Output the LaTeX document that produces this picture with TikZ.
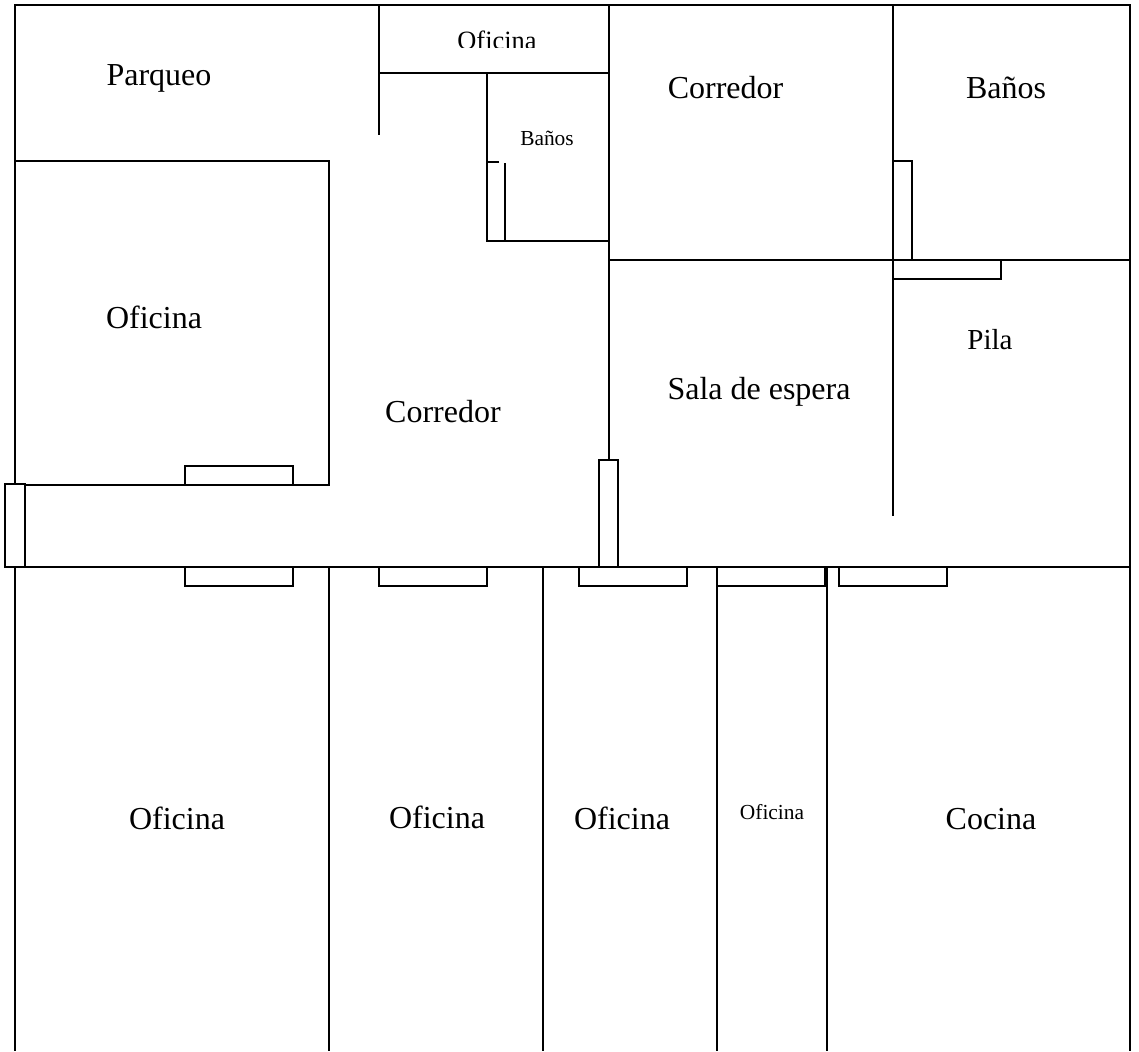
\documentclass[tikz,border=0pt]{standalone}
\usepackage{fontspec}
\setmainfont{Liberation Serif}
\tikzset{
    wall/.style={draw=black, line width=1.7pt},
    biglabel/.style={anchor=base, inner sep=0pt, font=\fontsize{32}{36}\selectfont},
    midlabel/.style={anchor=base, inner sep=0pt, font=\fontsize{29}{32}\selectfont},
    toplabel/.style={anchor=base, inner sep=0pt, font=\fontsize{26.4}{30}\selectfont},
    smalllabel/.style={anchor=base, inner sep=0pt, font=\fontsize{21.4}{24}\selectfont}
}
\begin{document}
\begin{tikzpicture}[x=1pt, y=-1pt]
    \useasboundingbox (0, 0) rectangle (1139, 1051);
    % outer walls
    \draw[wall] (15, 484) -- (15, 5) -- (1130, 5) -- (1130, 1051);
    \draw[wall] (5, 567) -- (1130, 567);
    \draw[wall] (15, 567) -- (15, 1051);
    % left office and parking
    \draw[wall] (15, 161) -- (329, 161) -- (329, 485) -- (25, 485);
    \draw[wall] (185, 485) -- (185, 466) -- (293, 466) -- (293, 485);
    \draw[wall] (5, 484) rectangle (25, 567);
    % top office and small bath
    \draw[wall] (379, 5) -- (379, 135);
    \draw[wall] (379, 73) -- (609, 73);
    \draw[wall] (487, 73) -- (487, 241);
    \draw[wall] (499, 162) -- (487, 162) -- (487, 241) -- (505, 241) -- (505, 163);
    \draw[wall] (487, 241) -- (609, 241);
    % middle walls
    \draw[wall] (609, 5) -- (609, 460);
    \draw[wall] (599, 460) rectangle (618, 567);
    \draw[wall] (893, 5) -- (893, 516);
    \draw[wall] (609, 260) -- (1130, 260);
    \draw[wall] (893, 161) -- (912, 161) -- (912, 260);
    \draw[wall] (893, 279) -- (1001, 279) -- (1001, 260);
    \draw[wall] (893, 260) -- (893, 279);
    % bottom rooms
    \foreach \wallx in {329, 543, 717, 827} {
        \draw[wall] (\wallx, 567) -- (\wallx, 1051);
    }
    \foreach \doorx in {185, 379, 579, 717, 839} {
        \draw[wall] (\doorx, 567) rectangle (\doorx + 108, 586);
    }
    % labels
    \node[biglabel] (parqueo) at (159, 86) {Parqueo};
    \begin{scope}
        \clip (440, 20) rectangle (550, 47.5);
        \node[toplabel] (oficinatop) at (497, 50) {Oficina};
    \end{scope}
    \node[smalllabel] (banossmall) at (547, 146) {Baños};
    \node[biglabel] (corredortop) at (725.5, 99) {Corredor};
    \node[biglabel] (banos) at (1006, 99) {Baños};
    \node[biglabel] (oficinaleft) at (154, 328) {Oficina};
    \node[midlabel] (pila) at (990, 349) {Pila};
    \node[biglabel] (sala) at (759, 399) {Sala de espera};
    \node[biglabel] (corredor) at (443, 422) {Corredor};
    \node[biglabel] (oficinaa) at (177, 829) {Oficina};
    \node[biglabel] (oficinab) at (437, 828) {Oficina};
    \node[biglabel] (oficinac) at (622, 829) {Oficina};
    \node[smalllabel] (oficinad) at (772, 819) {Oficina};
    \node[biglabel] (cocina) at (991, 829) {Cocina};
\end{tikzpicture}
\end{document}
